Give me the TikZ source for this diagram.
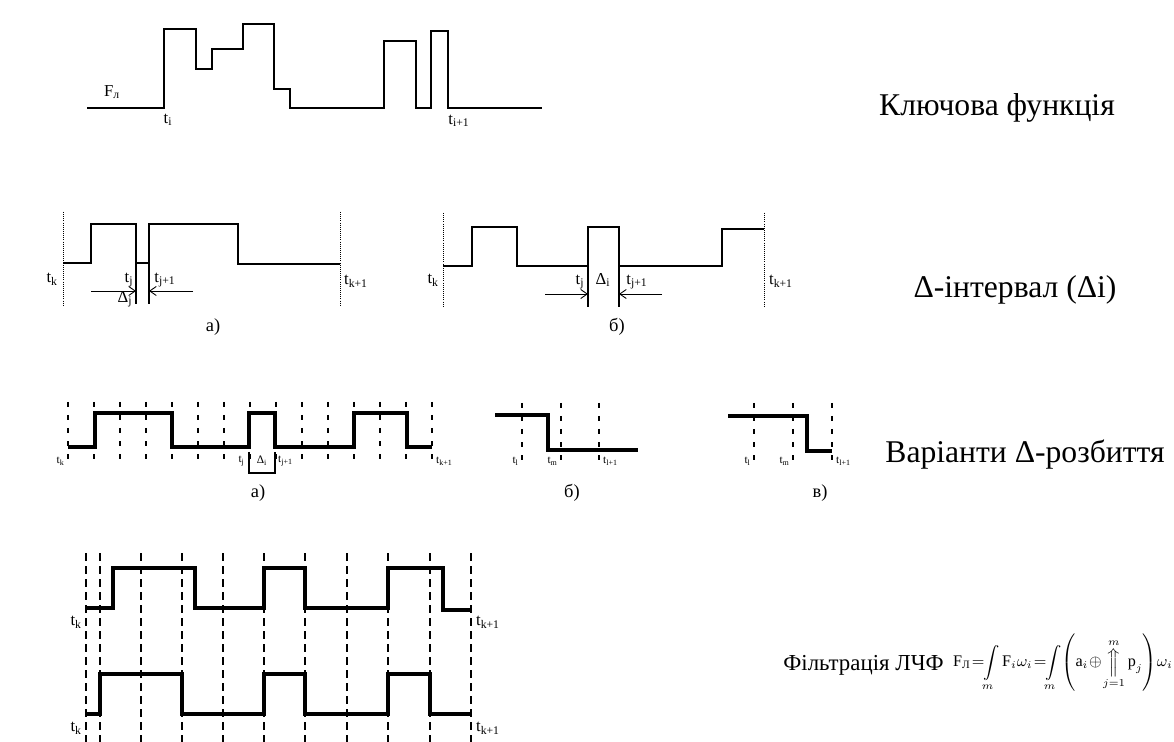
\documentclass[tikz,border=0pt]{standalone}
\usepackage{amsmath}
\usepackage{fontspec}
\setmainfont{Liberation Serif}
\usetikzlibrary{arrows.meta}

\begin{document}
\begin{tikzpicture}[x=0.2mm, y=-0.2mm,
    sig/.style={line width=1pt, line join=miter},
    sigb/.style={line width=1.6pt, line join=miter},
    sigc/.style={line width=2.4pt, line join=miter},
    dotv/.style={line width=0.5pt, dash pattern=on 0.5pt off 0.7pt},
    dasha/.style={line width=0.6pt, dash pattern=on 1mm off 1.6mm},
    dashb/.style={line width=0.6pt, dash pattern=on 1.6mm off 1mm},
    tick/.style={line width=0.6pt},
    arr/.style={-{Straight Barb[length=1.3mm, width=1.8mm]}, line width=0.5pt},
    lbl/.style={font=\fontsize{9.5}{11}\selectfont, inner sep=1pt},
    tinylbl/.style={font=\fontsize{6.5}{7}\selectfont, inner sep=0.5pt},
    capt/.style={font=\fontsize{10.5}{12}\selectfont},
    title/.style={font=\fontsize{18}{22}\selectfont}
]
    \useasboundingbox (0,0) rectangle (1174,742);

    % Ключова функція
    \draw[sig] (87,108) -- (164,108) -- (164,29) -- (196,29) -- (196,69) -- (212,69) -- (212,49)
        -- (243,49) -- (243,24) -- (274,24) -- (274,89) -- (290,89) -- (290,108) -- (384,108)
        -- (384,41) -- (416,41) -- (416,108) -- (431,108) -- (431,31) -- (448,31) -- (448,108) -- (542,108);
    \node[lbl] (fl) at (112,92) {F\textsubscript{л}};
    \node[lbl] (ti) at (168,120) {t\textsubscript{i}};
    \node[lbl] (tinext) at (459,121) {t\textsubscript{i+1}};
    \node[title] (key) at (997,108) {Ключова функція};

    % Δ-інтервал, варіант а)
    \draw[dotv] (63,212) -- (63,305);
    \draw[dotv] (340,212) -- (340,305);
    \draw[sigb] (63,263) -- (91,263) -- (91,224) -- (136,224) -- (136,263) -- (149,263) -- (149,224)
        -- (238,224) -- (238,264) -- (340,264);
    \draw[tick] (136,263) -- (136,304);
    \draw[tick] (149,263) -- (149,304);
    \draw[arr] (91,291) -- (136,291);
    \draw[arr] (193,291) -- (149,291);
    \node[lbl, anchor=east] (tka) at (60,279) {t\textsubscript{k}};
    \node[lbl, anchor=west] (tkna) at (342,281) {t\textsubscript{k+1}};
    \node[lbl] (tja) at (129,280) {t\textsubscript{j}};
    \node[lbl] (tjna) at (165,280) {t\textsubscript{j+1}};
    \node[lbl] (dja) at (125,299) {Δ\textsubscript{j}};
    \node[capt] (capa) at (213,327) {а)};

    % Δ-інтервал, варіант б)
    \draw[dotv] (443,213) -- (443,307);
    \draw[dotv] (764,213) -- (764,307);
    \draw[sigb] (443,266) -- (472,266) -- (472,227) -- (517,227) -- (517,266) -- (588,266) -- (588,227)
        -- (619,227) -- (619,266) -- (722,266) -- (722,229) -- (764,229);
    \draw[tick] (588,266) -- (588,307);
    \draw[tick] (619,266) -- (619,307);
    \draw[arr] (545,294) -- (588,294);
    \draw[arr] (662,294) -- (619,294);
    \node[lbl, anchor=east] (tkb) at (441,280) {t\textsubscript{k}};
    \node[lbl, anchor=west] (tknb) at (767,281) {t\textsubscript{k+1}};
    \node[lbl] (tjb) at (580,282) {t\textsubscript{j}};
    \node[lbl] (dib) at (603,280) {Δ\textsubscript{i}};
    \node[lbl] (tjnb) at (637,282) {t\textsubscript{j+1}};
    \node[capt] (capb) at (617,327) {б)};
    \node[title] (delta) at (1015,290) {Δ-інтервал (Δi)};

    % Варіанти Δ-розбиття, а)
    \foreach \x in {0,...,14}
        \draw[dasha] (68+26*\x,402) -- (68+26*\x,463);
    \draw[sigc] (68,447) -- (95,447) -- (95,413) -- (172,413) -- (172,447) -- (249,447) -- (249,413)
        -- (275,413) -- (275,447) -- (354,447) -- (354,413) -- (407,413) -- (407,447) -- (432,447);
    \draw[tick] (249,452) -- (249,473) -- (275,473) -- (275,452);
    \node[tinylbl, anchor=east] (tkc) at (66,461) {t\textsubscript{k}};
    \node[tinylbl, anchor=east] (tjc) at (246,461) {t\textsubscript{j}};
    \node[tinylbl] (dic) at (262,461) {Δ\textsubscript{i}};
    \node[tinylbl, anchor=west] (tjnc) at (277,461) {t\textsubscript{j+1}};
    \node[tinylbl, anchor=west] (tknc) at (435,461) {t\textsubscript{k+1}};
    \node[capt] (capc) at (258,493) {а)};

    % Варіанти Δ-розбиття, б)
    \foreach \x in {522,561,599}
        \draw[dasha] (\x,403) -- (\x,462);
    \draw[sigc] (495,415) -- (548,415) -- (548,450) -- (638,450);
    \node[tinylbl, anchor=east] (tld) at (520,461) {t\textsubscript{l}};
    \node[tinylbl, anchor=east] (tmd) at (559,461) {t\textsubscript{m}};
    \node[tinylbl, anchor=west] (tlnd) at (602,461) {t\textsubscript{l+1}};
    \node[capt] (capd) at (572,493) {б)};

    % Варіанти Δ-розбиття, в)
    \foreach \x in {754,793,832}
        \draw[dasha] (\x,403) -- (\x,462);
    \draw[sigc] (728,416) -- (807,416) -- (807,451) -- (832,451);
    \node[tinylbl, anchor=east] (tle) at (752,461) {t\textsubscript{l}};
    \node[tinylbl, anchor=east] (tme) at (791,461) {t\textsubscript{m}};
    \node[tinylbl, anchor=west] (tlne) at (835,461) {t\textsubscript{l+1}};
    \node[capt] (cape) at (820,493) {в)};
    \node[title] (split) at (1025,455) {Варіанти Δ-розбиття};

    % Фільтрація ЛЧФ
    \foreach \x in {86,100,141,182,223,264,305,347,388,430,471}
        \draw[dashb] (\x,553) -- (\x,742);
    \draw[sigc] (86,608) -- (113,608) -- (113,568) -- (195,568) -- (195,608) -- (264,608) -- (264,568)
        -- (305,568) -- (305,608) -- (388,608) -- (388,568) -- (443,568) -- (443,610) -- (471,610);
    \draw[sigc] (86,714) -- (100,714) -- (100,674) -- (182,674) -- (182,714) -- (264,714) -- (264,674)
        -- (305,674) -- (305,714) -- (388,714) -- (388,674) -- (430,674) -- (430,714) -- (471,714);
    \node[lbl, anchor=east] (tkf) at (84,622) {t\textsubscript{k}};
    \node[lbl, anchor=west] (tknf) at (474,622) {t\textsubscript{k+1}};
    \node[lbl, anchor=east] (tkg) at (84,728) {t\textsubscript{k}};
    \node[lbl, anchor=west] (tkng) at (474,728) {t\textsubscript{k+1}};
    \node[font=\fontsize{13}{16}\selectfont, anchor=west, inner sep=0pt] (filt) at (783,665) {Фільтрація ЛЧФ};
    \node[font=\fontsize{9.2}{11}\selectfont, anchor=east, inner sep=0pt] (formula) at (1173,663)
        {\thickmuskip=1.5mu \medmuskip=1mu
        $\displaystyle \text{F}_{\text{Л}} = \!\int\limits_m \text{F}_i\omega_i
        = \!\int\limits_m\! \left( \text{a}_i \oplus \mathop{\Big\Uparrow}\limits_{j=1}^{m} \text{p}_j \right)\!\omega_i$};
\end{tikzpicture}
\end{document}
